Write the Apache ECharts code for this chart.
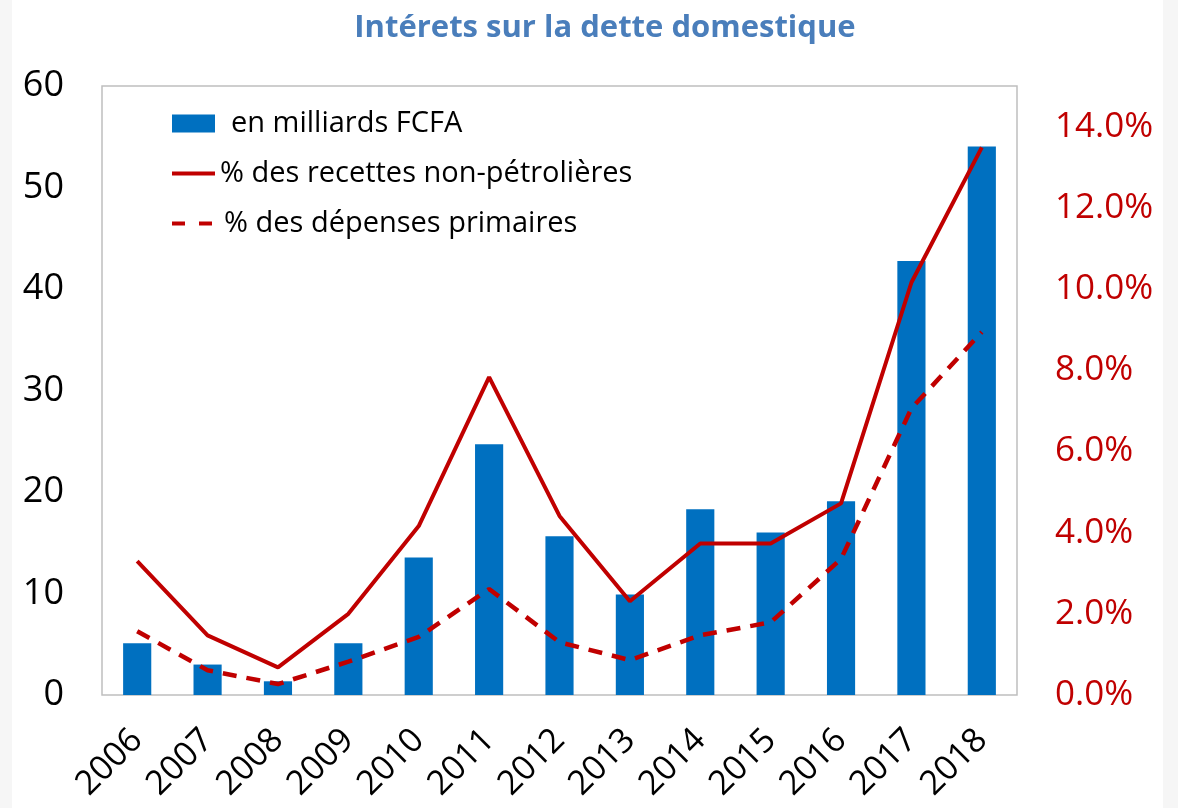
<!DOCTYPE html>
<html>
<head>
<meta charset="utf-8">
<script src="https://cdn.jsdelivr.net/npm/echarts@6/dist/echarts.min.js"></script>
<style>
  html, body { margin: 0; padding: 0; background: #f6f6f6; }
  .panel { position: absolute; left: 12px; top: 0; width: 1151px; height: 808px; background: #fff; }
  #chart { position: absolute; left: 0; top: 0; width: 1178px; height: 808px; }
</style>
</head>
<body>
<div class="panel"></div>
<div id="chart"></div>
<script>
// données
const years = ["2006", "2007", "2008", "2009", "2010", "2011", "2012", "2013", "2014", "2015", "2016", "2017", "2018"];
const interetsMds = [5.1, 3.0, 1.35, 5.1, 13.55, 24.7, 15.65, 9.9, 18.3, 16.0, 19.1, 42.75, 54.05];
const pctRecettes = [3.3, 1.47, 0.68, 2.0, 4.16, 7.83, 4.41, 2.31, 3.73, 3.73, 4.72, 10.16, 13.49];
const pctDepenses = [1.57, 0.61, 0.27, 0.82, 1.43, 2.61, 1.3, 0.86, 1.47, 1.79, 3.35, 7.06, 8.94];

const rouge = "#c00000";
const bleu = "#0070c0";
const font = "Open Sans";

const chart = echarts.init(document.getElementById("chart"));
const option = {
  animation: false,
  textStyle: { fontFamily: font },
  title: {
    text: "Intérets sur la dette domestique",
    left: 600,
    top: 8,
    textAlign: "center",
    textStyle: { color: "#4a7ebb", fontSize: 31, fontWeight: "bold", fontFamily: font },
  },
  legend: {
    orient: "vertical",
    left: 165,
    top: 104,
    itemWidth: 43,
    itemHeight: 18,
    itemGap: 21,
    textStyle: { color: "#000", fontSize: 29, lineHeight: 29, fontFamily: font },
    data: [
      { name: "en milliards FCFA", icon: "rect", textStyle: { padding: [0, 0, 0, 11] } },
      {
        name: "% des recettes non-pétrolières",
        itemStyle: { opacity: 0 },
        lineStyle: { width: 4 },
      },
      {
        name: "% des dépenses primaires",
        itemStyle: { opacity: 0 },
        lineStyle: { width: 4, type: [13, 14] },
        textStyle: { padding: [0, 0, 0, 4] },
      },
    ],
  },
  grid: {
    left: 102,
    right: 161,
    top: 86,
    bottom: 113,
    show: true,
    borderColor: "#bfbfbf",
    borderWidth: 1.5,
  },
  xAxis: {
    type: "category",
    data: years,
    axisLine: { show: false },
    axisTick: { show: false },
    axisLabel: { rotate: 45, margin: 40, fontSize: 34, color: "#000", fontFamily: font },
  },
  yAxis: [
    {
      type: "value",
      min: 0,
      max: 60,
      interval: 10,
      splitLine: { show: false },
      axisLine: { show: false },
      axisTick: { show: false },
      axisLabel: { margin: 38, fontSize: 36, color: "#000", fontFamily: font },
    },
    {
      type: "value",
      min: 0,
      max: 15,
      interval: 2,
      splitLine: { show: false },
      axisLine: { show: false },
      axisTick: { show: false },
      axisLabel: {
        margin: 38,
        fontSize: 35,
        color: rouge,
        fontFamily: font,
        showMaxLabel: false,
        formatter: (v) => v.toFixed(1) + "%",
      },
    },
  ],
  series: [
    {
      name: "en milliards FCFA",
      type: "bar",
      yAxisIndex: 0,
      barWidth: "40%",
      itemStyle: { color: bleu },
      data: interetsMds,
    },
    {
      name: "% des recettes non-pétrolières",
      type: "line",
      yAxisIndex: 1,
      symbol: "none",
      lineStyle: { color: rouge, width: 4 },
      itemStyle: { color: rouge },
      data: pctRecettes,
    },
    {
      name: "% des dépenses primaires",
      type: "line",
      yAxisIndex: 1,
      symbol: "none",
      lineStyle: { color: rouge, width: 4.5, type: [14, 10] },
      itemStyle: { color: rouge },
      data: pctDepenses,
    },
  ],
};
chart.setOption(option);
</script>
</body>
</html>
